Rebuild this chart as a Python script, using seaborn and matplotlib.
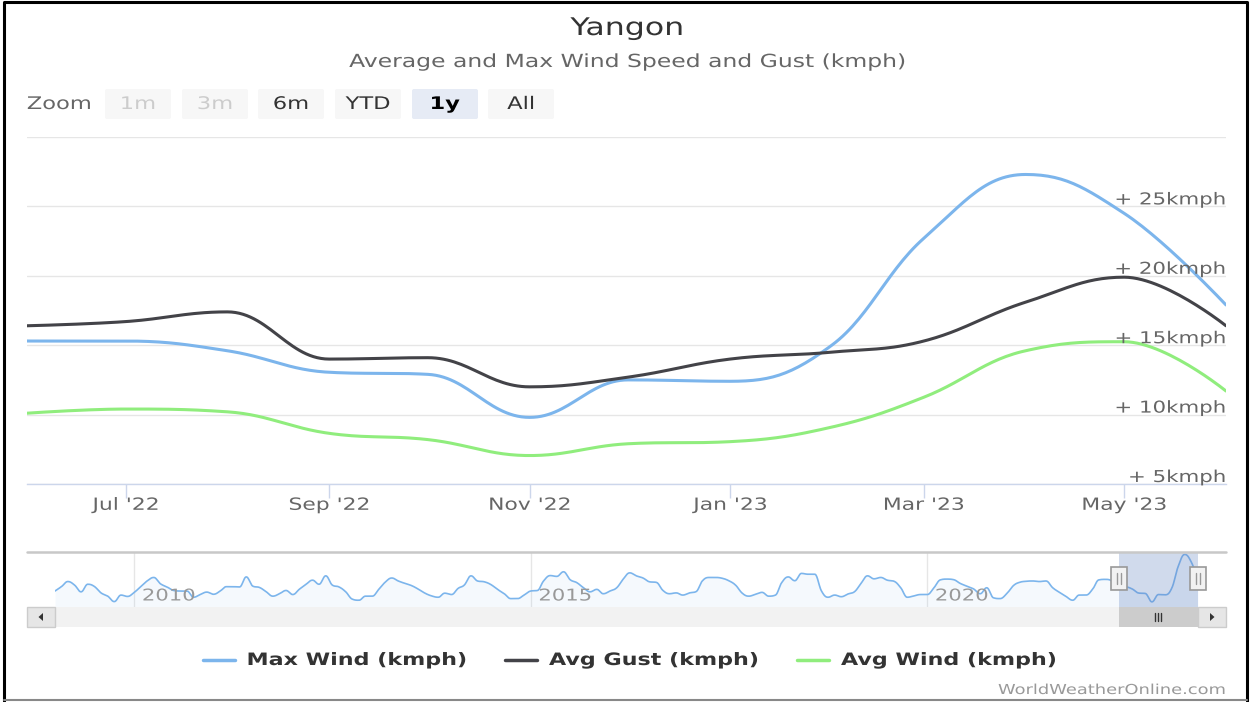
import numpy as np
import pandas as pd
import matplotlib
matplotlib.use("Agg")
import matplotlib.pyplot as plt
import matplotlib.dates as mdates
import matplotlib.transforms as mtransforms
from matplotlib.patches import Rectangle, FancyBboxPatch, Polygon
from matplotlib.patheffects import AbstractPathEffect
import seaborn as sns

# ---- data (kmph), monthly points on the 1st of each month
# 1y view: Jun 2022 .. Jun 2023
max_wind = [15.3, 15.3, 14.6, 13.05, 12.9, 9.8, 12.5, 12.4, 15.0, 22.7, 27.3, 24.5, 17.9]
avg_gust = [16.4, 16.7, 17.4, 14.0, 14.1, 12.0, 12.7, 14.0, 14.5, 15.3, 18.1, 19.9, 16.4]
avg_wind = [10.1, 10.4, 10.2, 8.65, 8.2, 7.05, 7.9, 8.05, 9.1, 11.25, 14.6, 15.25, 11.7]

# navigator history of max wind, Jan 2009 .. May 2022
max_wind_hist = [
    13.8, 15.5, 17.3, 16.0, 13.5, 16.3, 15.5, 13.1, 11.9, 9.9, 12.3, 11.8,    # 2009
    13.3, 15.5, 17.5, 18.8, 16.5, 15.3, 14.0, 13.8, 13.8, 11.5, 12.5, 13.4,   # 2010
    12.6, 13.8, 15.4, 15.4, 15.3, 19.0, 15.6, 15.1, 13.5, 11.9, 12.8, 14.0,   # 2011
    12.5, 14.5, 16.2, 17.8, 16.3, 19.4, 16.0, 15.3, 13.5, 10.8, 10.4, 11.9,   # 2012
    11.9, 14.5, 17.0, 18.6, 17.5, 16.6, 15.8, 14.5, 13.0, 12.0, 11.5, 13.0,   # 2013
    12.5, 14.8, 16.0, 19.4, 17.5, 17.2, 16.2, 14.4, 12.8, 11.0, 11.0, 12.3,   # 2014
    13.8, 14.0, 17.5, 19.5, 19.2, 20.9, 18.0, 16.9, 15.0, 13.5, 14.4, 12.8,   # 2015
    13.8, 15.0, 18.1, 20.5, 19.4, 18.6, 17.2, 17.0, 14.0, 12.8, 13.1, 12.3,   # 2016
    13.1, 13.6, 17.5, 18.8, 18.8, 18.5, 17.6, 16.0, 13.0, 11.9, 12.6, 13.3,   # 2017
    11.9, 12.3, 16.8, 19.0, 17.6, 20.3, 20.0, 20.0, 13.8, 11.5, 12.3, 11.7,   # 2018
    12.7, 13.6, 16.5, 19.4, 18.3, 18.8, 17.8, 17.4, 15.0, 11.5, 12.0, 12.5,   # 2019
    12.5, 15.0, 17.9, 18.2, 18.0, 16.6, 15.6, 14.6, 12.8, 15.0, 11.3, 11.0,   # 2020
    12.8, 15.8, 17.0, 17.4, 17.5, 17.3, 17.5, 15.0, 13.3, 11.8, 10.4, 12.3,   # 2021
    12.3, 14.5, 17.9, 18.1, 17.5,                                             # 2022
]

series_names = ['Max Wind (kmph)', 'Avg Gust (kmph)', 'Avg Wind (kmph)']
series_colors = ['#7cb5ec', '#434348', '#90ed7d']
x_ticks = ['2022-07-01', '2022-09-01', '2022-11-01', '2023-01-01', '2023-03-01', '2023-05-01']
x_labels = ["Jul '22", "Sep '22", "Nov '22", "Jan '23", "Mar '23", "May '23"]
y_grid = [5, 10, 15, 20, 25, 30]
y_labels = ['+ 5kmph', '+ 10kmph', '+ 15kmph', '+ 20kmph', '+ 25kmph']
zoom_buttons = ['1m', '3m', '6m', 'YTD', '1y', 'All']
nav_years = ['2010', '2015', '2020']

months_1y = pd.date_range('2022-06-01', periods=len(max_wind), freq='MS')
months_all = pd.date_range('2009-01-01', periods=len(max_wind_hist) + len(max_wind), freq='MS')
max_wind_all = max_wind_hist + max_wind

SX = 1.3  # the original render is stretched sideways


class Wide(AbstractPathEffect):
    """draw text stretched horizontally around its left/centre/right edge"""
    def __init__(self, sx=SX, anchor='center'):
        super().__init__()
        self.sx = sx
        self.anchor = anchor

    def draw_path(self, renderer, gc, tpath, affine, rgbFace=None):
        ext = tpath.get_extents(affine)
        cx = {'left': ext.x0, 'center': (ext.x0 + ext.x1) / 2, 'right': ext.x1}[self.anchor]
        aff = affine + mtransforms.Affine2D().translate(-cx, 0).scale(self.sx, 1).translate(cx, 0)
        renderer.draw_path(gc, tpath, aff, rgbFace)


def hc_spline(xs, ys, n=30):
    # Highcharts style spline: cubic bezier with smoothing 1.5
    xs = np.asarray(xs, float)
    ys = np.asarray(ys, float)
    lcx, lcy, rcx, rcy = xs.copy(), ys.copy(), xs.copy(), ys.copy()
    s = 1.5
    for i in range(1, len(xs) - 1):
        px, py = xs[i], ys[i]
        lx, ly = xs[i - 1], ys[i - 1]
        nx, ny = xs[i + 1], ys[i + 1]
        a_x, a_y = (s * px + lx) / (s + 1), (s * py + ly) / (s + 1)
        b_x, b_y = (s * px + nx) / (s + 1), (s * py + ny) / (s + 1)
        corr = (b_y - a_y) * (b_x - px) / (b_x - a_x) + py - b_y
        a_y += corr
        b_y += corr
        if a_y > ly and a_y > py:
            a_y = max(ly, py); b_y = 2 * py - a_y
        elif a_y < ly and a_y < py:
            a_y = min(ly, py); b_y = 2 * py - a_y
        if b_y > ny and b_y > py:
            b_y = max(ny, py); a_y = 2 * py - b_y
        elif b_y < ny and b_y < py:
            b_y = min(ny, py); a_y = 2 * py - b_y
        lcx[i], lcy[i], rcx[i], rcy[i] = a_x, a_y, b_x, b_y
    ox, oy = [xs[0]], [ys[0]]
    t = np.linspace(0, 1, n)[1:]
    b0, b1, b2, b3 = (1 - t) ** 3, 3 * (1 - t) ** 2 * t, 3 * (1 - t) * t ** 2, t ** 3
    for i in range(1, len(xs)):
        ox.extend(b0 * xs[i - 1] + b1 * rcx[i - 1] + b2 * lcx[i] + b3 * xs[i])
        oy.extend(b0 * ys[i - 1] + b1 * rcy[i - 1] + b2 * lcy[i] + b3 * ys[i])
    return np.array(ox), np.array(oy)


sns.set_theme(style='white')
plt.rcParams['font.family'] = ['DejaVu Sans']

W, H = 1250, 702
fig = plt.figure(figsize=(W / 100, H / 100), dpi=100)


def rect(x0, y0, x1, y1):
    return [x0 / W, 1 - y1 / H, (x1 - x0) / W, (y1 - y0) / H]


ax = fig.add_axes(rect(27, 137, 1226, 484))
nav = fig.add_axes(rect(55, 552, 1198, 607))
ui = fig.add_axes([0, 0, 1, 1])
ui.set_xlim(0, W)
ui.set_ylim(H, 0)
ui.axis('off')

# ---- main chart
t_1y = mdates.date2num(months_1y)
t_all = mdates.date2num(months_all)
frames = []
for name, xs, ys in [(series_names[0], t_all, max_wind_all),
                     (series_names[1], t_1y, avg_gust),
                     (series_names[2], t_1y, avg_wind)]:
    sx, sy = hc_spline(xs, ys)
    frames.append(pd.DataFrame({'t': sx, 'kmph': sy, 'series': name}))
df = pd.concat(frames, ignore_index=True)

sns.lineplot(data=df, x='t', y='kmph', hue='series', palette=dict(zip(series_names, series_colors)),
             estimator=None, sort=False, linewidth=2.2, legend=False, ax=ax)
ax.set_xlim(mdates.date2num(pd.Timestamp('2022-06-01')), mdates.date2num(pd.Timestamp('2023-06-01')))
ax.set_ylim(5, 30)
ax.set_xlabel('')
ax.set_ylabel('')
ax.set_yticks(y_grid)
ax.grid(axis='y', color='#e6e6e6', linewidth=1)
ax.grid(axis='x', visible=False)
ax.tick_params(axis='y', length=0, labelleft=False)
for sp in ['top', 'left', 'right']:
    ax.spines[sp].set_visible(False)
ax.spines['bottom'].set_color('#ccd6eb')
ax.spines['bottom'].set_linewidth(1)
ax.set_xticks(mdates.date2num(pd.to_datetime(x_ticks)))
ax.set_xticklabels(x_labels)
ax.tick_params(axis='x', length=10, width=1, color='#ccd6eb', labelcolor='#666666',
               labelsize=12.1, pad=-1.5, bottom=True)
for lab in ax.get_xticklabels():
    lab.set_path_effects([Wide(SX, 'center')])

ytrans = mtransforms.offset_copy(ax.get_yaxis_transform(), fig=fig, x=0, y=-1, units='dots')
for v, lab in zip(y_grid, y_labels):
    ax.text(1.0, v, lab, transform=ytrans, ha='right', va='bottom', fontsize=11.8,
            color='#666666', path_effects=[Wide(SX, 'right')])

# ---- navigator
nx_, ny_ = hc_spline(t_all, max_wind_all)
nav.set_xlim(t_all[0], t_all[-1])
nav.set_ylim(7.9, 28.2)
nav.fill_between(nx_, ny_, 7.9, color='#7cb5ec', alpha=0.07, lw=0)
sns.lineplot(x=nx_, y=ny_, color='#7cb5ec', linewidth=1.2, estimator=None, sort=False, ax=nav)
yr_t = mdates.date2num(pd.to_datetime([y + '-01-01' for y in nav_years]))
nav.set_xticks(yr_t)
nav.set_yticks([])
nav.grid(axis='x', color='#e6e6e6', linewidth=1)
nav.tick_params(length=0, labelbottom=False, labelleft=False)
for sp in nav.spines.values():
    sp.set_visible(False)
navtrans = mtransforms.offset_copy(nav.get_xaxis_transform(), fig=fig, x=8, y=0, units='dots')
for t, lab in zip(yr_t, nav_years):
    nav.text(t, 0.2, lab, transform=navtrans, ha='left', va='center', fontsize=11.7,
             color='#999999', path_effects=[Wide(SX, 'left')])
sel0, sel1 = t_1y[0], t_1y[-1]
nav.axvspan(sel0, sel1, color=(102 / 255, 133 / 255, 194 / 255, 0.3), lw=0, zorder=3)

# pixel positions of the selection (for handles / scrollbar thumb)
px0 = nav.transData.transform((sel0, 10))[0]
px1 = nav.transData.transform((sel1, 10))[0]

ui.plot([27, 1226], [552, 552], color='#c8c8c8', lw=1.8)
for px in (px0, px1):
    ui.add_patch(Rectangle((px - 8, 567), 16, 23, fc='#f2f2f2', ec='#999999', lw=1.2, zorder=5))
    for dx in (-2, 2):
        ui.plot([px + dx, px + dx], [573, 584], color='#999999', lw=1, zorder=6)

# ---- scrollbar
ui.add_patch(Rectangle((27, 607), 1199, 20, fc='#f2f2f2', ec='none'))
ui.add_patch(Rectangle((px0, 607), px1 - px0, 20, fc='#cccccc', ec='none'))
for dx in (-3, 0, 3):
    ui.plot([(px0 + px1) / 2 + dx] * 2, [613, 621], color='#333333', lw=1)
for bx, d in ((27, -1), (1198, 1)):
    ui.add_patch(Rectangle((bx, 607), 28, 20, fc='#e6e6e6', ec='#cccccc', lw=1))
    cx = bx + 14
    ui.add_patch(Polygon([(cx + 2.5 * d, 617), (cx - 2 * d, 613), (cx - 2 * d, 621)],
                         closed=True, fc='#333333', ec='none'))

# ---- title, subtitle, range selector
ui.text(627, 28, 'Yangon', ha='center', va='center', fontsize=17.5, color='#333333',
        path_effects=[Wide(SX, 'center')])
ui.text(627, 62, 'Average and Max Wind Speed and Gust (kmph)', ha='center', va='center',
        fontsize=13.0, color='#666666', path_effects=[Wide(SX, 'center')])
ui.text(27, 104, 'Zoom', ha='left', va='center', fontsize=12.5, color='#666666',
        path_effects=[Wide(SX, 'left')])
btn_left = [105, 182, 258, 335, 412, 488]
for bx, lab in zip(btn_left, zoom_buttons):
    disabled = lab in ('1m', '3m')
    selected = lab == '1y'
    ui.add_patch(FancyBboxPatch((bx, 89), 66, 30, boxstyle='round,pad=0,rounding_size=2',
                                fc='#e6ebf5' if selected else '#f7f7f7', ec='none'))
    ui.text(bx + 33, 104, lab, ha='center', va='center', fontsize=12.5,
            color='#cccccc' if disabled else ('#000000' if selected else '#333333'),
            fontweight='bold' if selected else 'normal', path_effects=[Wide(SX, 'center')])

# ---- legend
leg_sym = [203, 505, 797]
for sx0, name, col in zip(leg_sym, series_names, series_colors):
    ui.plot([sx0, sx0 + 32], [660, 660], color=col, lw=2.5)
    ui.text(sx0 + 44, 660, name, ha='left', va='center', fontsize=12.3, fontweight='bold',
            color='#333333', path_effects=[Wide(SX, 'left')])

ui.text(1226, 690, 'WorldWeatherOnline.com', ha='right', va='center', fontsize=9.9,
        color='#999999', path_effects=[Wide(SX, 'right')])

# frame round the picture
ui.plot([4, 4, 1247, 1247], [701, 2, 2, 701], color='black', lw=2.2)
ui.plot([4, 1247], [700, 700], color='#888888', lw=1.5)

fig.savefig('out.png', dpi=100)
